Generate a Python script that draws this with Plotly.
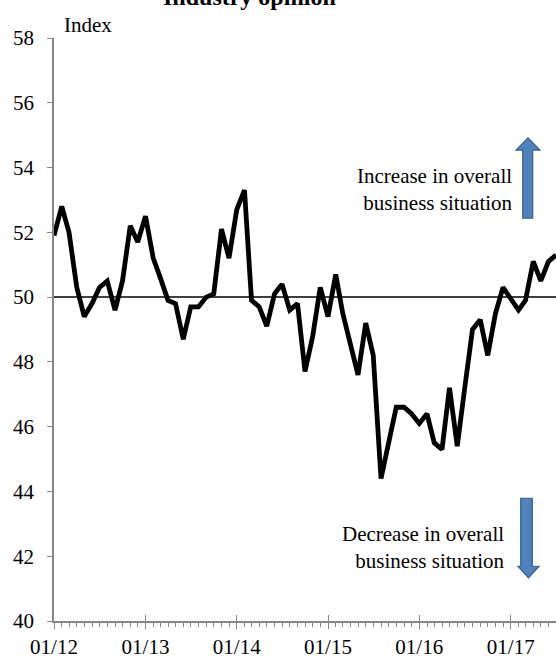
import pandas as pd
import plotly.graph_objects as go

# ---- data (monthly index, Jan 2012 - Jul 2017) ----
values = [51.9, 52.8, 52.0, 50.3, 49.4, 49.8, 50.3, 50.5, 49.6, 50.5, 52.2, 51.7,
          52.5, 51.2, 50.6, 49.9, 49.8, 48.7, 49.7, 49.7, 50.0, 50.1, 52.1, 51.2,
          52.7, 53.3, 49.9, 49.7, 49.1, 50.1, 50.4, 49.6, 49.8, 47.7, 48.8, 50.3,
          49.4, 50.7, 49.5, 48.6, 47.6, 49.2, 48.2, 44.4, 45.6, 46.6, 46.6, 46.4,
          46.1, 46.4, 45.5, 45.3, 47.2, 45.4, 47.2, 49.0, 49.3, 48.2, 49.5, 50.3,
          49.95, 49.6, 49.9, 51.1, 50.5, 51.1, 51.3]
months = pd.date_range("2012-01-01", periods=len(values), freq="MS")
y_ticks = [40, 42, 44, 46, 48, 50, 52, 54, 56, 58]
x_range = ["2012-01-01", "2017-07-01"]
baseline = 50
up_text = "Increase in overall<br>business situation"
down_text = "Decrease in overall<br>business situation"
unit_label = "Index"
title_text = "Industry opinion"

FONT = "Liberation Serif, Times New Roman, serif"
AXIS = "#868686"
FS = 21

fig = go.Figure()
fig.add_trace(go.Scatter(x=months, y=values, mode="lines",
                         line=dict(color="black", width=4.8),
                         hoverinfo="skip", showlegend=False))
# dummy trace on overlay axis for inward tick marks
fig.add_trace(go.Scatter(x=[months[0]], y=[values[0]], xaxis="x2", mode="none",
                         showlegend=False, hoverinfo="skip"))

fig.update_layout(
    width=556, height=659,
    margin=dict(l=54, r=0, t=38, b=34),
    paper_bgcolor="white", plot_bgcolor="white",
    font=dict(family=FONT, size=FS, color="black"),
    xaxis=dict(type="date", range=x_range, tick0="2012-01-01", dtick="M12",
               tickformat="%m/%y", ticks="outside", ticklen=6, tickwidth=1.2,
               tickcolor=AXIS, showline=True, linecolor=AXIS, linewidth=1.5,
               showgrid=False, zeroline=False,
               minor=dict(dtick="M1", ticks="outside", ticklen=4, tickwidth=1,
                          tickcolor=AXIS, showgrid=False),
               tickfont=dict(size=FS)),
    xaxis2=dict(type="date", range=x_range, overlaying="x", tick0="2012-01-01",
                dtick="M12", ticks="inside", ticklen=6, tickwidth=1.2,
                tickcolor=AXIS, showticklabels=False, showgrid=False,
                showline=False, zeroline=False, side="bottom", anchor="y"),
    yaxis=dict(range=[40, 58], tickvals=y_ticks, ticks="outside", ticklen=5,
               tickwidth=1.2, tickcolor=AXIS, showline=True, linecolor=AXIS,
               linewidth=1.5, showgrid=False, zeroline=False,
               ticklabelstandoff=9, tickfont=dict(size=FS)),
)

# reference line at 50
fig.add_shape(type="line", xref="paper", x0=0, x1=1, yref="y", y0=baseline, y1=baseline,
              line=dict(color="black", width=1.5), layer="below")

# arrows (decorative)
def arrow_path(xl, xr, sl, sr, y_tail, y_head_base, y_tip):
    xm = (xl + xr) / 2
    return (f"M {sl} {y_tail} L {sl} {y_head_base} L {xl} {y_head_base} "
            f"L {xm} {y_tip} L {xr} {y_head_base} L {sr} {y_head_base} "
            f"L {sr} {y_tail} Z")

fig.add_shape(type="path", xref="paper", yref="y",
              path=arrow_path(0.9203, 0.9681, 0.9337, 0.9536, 52.44, 54.54, 54.92),
              fillcolor="#4F81BD", line=dict(color="#385D8A", width=1.2))
fig.add_shape(type="path", xref="paper", yref="y",
              path=arrow_path(0.9243, 0.9661, 0.9297, 0.9528, 43.79, 41.69, 41.33),
              fillcolor="#4F81BD", line=dict(color="#385D8A", width=1.2))

fig.add_annotation(xref="paper", yref="y", x=0.918, y=53.33, text=up_text,
                   showarrow=False, xanchor="right", yanchor="middle", align="right",
                   font=dict(size=FS))
fig.add_annotation(xref="paper", yref="y", x=0.902, y=42.26, text=down_text,
                   showarrow=False, xanchor="right", yanchor="middle", align="right",
                   font=dict(size=FS))
fig.add_annotation(xref="paper", yref="paper", x=0.016, y=1, text=unit_label,
                   showarrow=False, xanchor="left", yanchor="bottom", yshift=-1,
                   font=dict(size=FS))
fig.add_annotation(xref="paper", yref="paper", x=0.39, y=1, text=f"<b>{title_text}</b>",
                   showarrow=False, xanchor="center", yanchor="bottom", yshift=26,
                   font=dict(size=24))

fig.write_html("out.html", config={"displayModeBar": False},
               post_script="document.body.style.margin='0';")
